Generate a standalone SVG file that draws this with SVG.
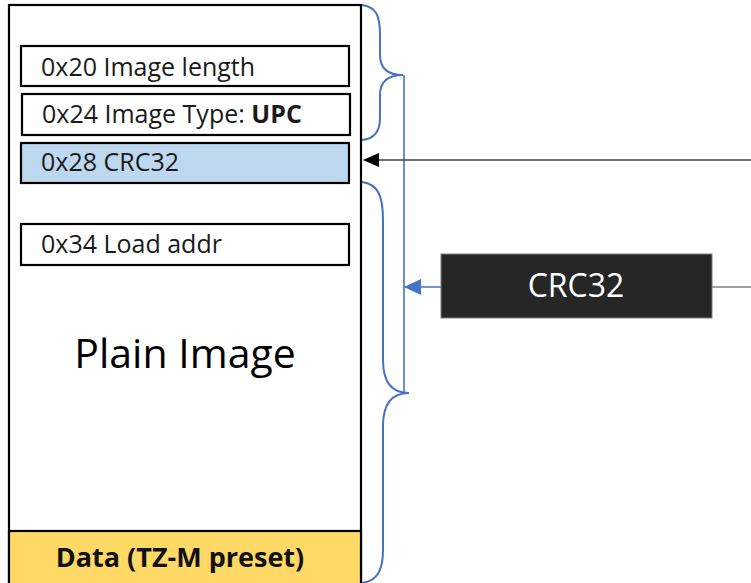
<svg xmlns="http://www.w3.org/2000/svg" width="751" height="583" viewBox="0 0 751 583">
<style>
.field{fill:#ffffff;stroke:#000;stroke-width:2.2}
.lbl{font-family:"Open Sans","Liberation Sans",sans-serif;font-size:25px;fill:#1a1a1a}
.brace{fill:none;stroke:#4472C4;stroke-width:2}
</style>
<defs>
<marker id="ab" markerWidth="16" markerHeight="14" refX="15" refY="7" orient="auto" markerUnits="userSpaceOnUse"><path d="M0,0 L16,7 L0,14 Z" fill="#000"/></marker>
<marker id="abl" markerWidth="17" markerHeight="16" refX="16" refY="8" orient="auto" markerUnits="userSpaceOnUse"><path d="M0,0 L17,8 L0,16 Z" fill="#4472C4"/></marker>
</defs>
<g id="image">
<rect x="9" y="5" width="352" height="590" fill="#fff" stroke="#000" stroke-width="2.2"/>
<text x="185" y="368" text-anchor="middle" style="font-family:'Open Sans','Liberation Sans',sans-serif;font-size:41px;fill:#000">Plain Image</text>
</g>
<g id="f20"><rect class="field" x="21" y="46" width="328" height="40"/><text class="lbl" x="41" y="76">0x20 Image length</text></g>
<g id="f24"><rect class="field" x="22" y="94" width="328" height="41"/><text class="lbl" x="42" y="123">0x24 Image Type: <tspan font-weight="bold">UPC</tspan></text></g>
<g id="f28"><rect class="field" x="21" y="143" width="328" height="40" style="fill:#BDD7EE"/><text class="lbl" x="41" y="171">0x28 CRC32</text></g>
<g id="f34"><rect class="field" x="21" y="224" width="328" height="41"/><text class="lbl" x="41" y="253">0x34 Load addr</text></g>
<g id="data"><rect x="9" y="531" width="352" height="60" fill="#FFD966" stroke="#000" stroke-width="2.2"/><text x="180" y="567" text-anchor="middle" style="font-family:'Open Sans','Liberation Sans',sans-serif;font-size:27px;font-weight:bold;fill:#111">Data (TZ-M preset)</text></g>
<g id="crc"><rect x="441" y="254" width="271" height="64" fill="#262626" stroke="#7f7f7f" stroke-width="1"/><text x="576" y="297" text-anchor="middle" style="font-family:'Open Sans','Liberation Sans',sans-serif;font-size:32px;fill:#fff">CRC32</text></g>
<g id="braces">
<path class="brace" d="M362,5 C376,7 380,15 380,35 L380,55 C380,68 388,75 403,75 C388,75 380,82 380,95 L380,118 C380,132 374,139 362,140"/>
<path class="brace" d="M362,182 C378,184 383,196 383,220 L383,360 C383,382 392,393 409,393 C392,393 383,404 383,426 L383,550 C383,572 376,581 362,583"/>
</g>
<g id="connectors">
<line x1="404" y1="75" x2="404" y2="393" stroke="#4472C4" stroke-width="1.6"/>
<line x1="441" y1="287" x2="405" y2="287" stroke="#4472C4" stroke-width="1.6" marker-end="url(#abl)"/>
<line x1="712" y1="287" x2="751" y2="287" stroke="#7f7f7f" stroke-width="1.6"/>
<line x1="751" y1="160" x2="364" y2="160" stroke="#404040" stroke-width="1.6" marker-end="url(#ab)"/>
</g>
</svg>
